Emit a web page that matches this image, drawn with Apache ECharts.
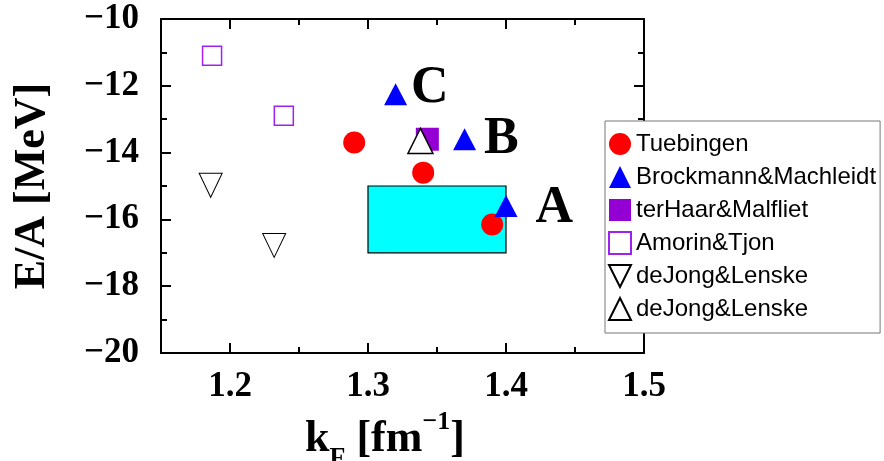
<!DOCTYPE html>
<html>
<head>
<meta charset="utf-8">
<script src="https://cdn.jsdelivr.net/npm/echarts@6/dist/echarts.min.js"></script>
<style>
  html, body { margin: 0; padding: 0; background: #fff; }
  #chart { width: 884px; height: 461px; }
</style>
</head>
<body>
<div id="chart"></div>
<script>
// Binding energy per nucleon of nuclear matter at saturation, E/A [MeV] vs k_F [fm^-1]
const tuebingenKf = [1.29, 1.34, 1.39];
const tuebingenE = [-13.7, -14.6, -16.15];
const brockmannKf = [1.32, 1.37, 1.40];
const brockmannE = [-12.25, -13.6, -15.6];
const brockmannTags = ['C', 'B', 'A'];
const terHaarKf = [1.343];
const terHaarE = [-13.6];
const amorinKf = [1.187, 1.239];
const amorinE = [-11.1, -12.9];
const deJongDownKf = [1.186, 1.232];
const deJongDownE = [-14.98, -16.78];
const deJongUpKf = [1.338];
const deJongUpE = [-13.65];
// empirical saturation region
const boxKf = [1.3, 1.4];
const boxE = [-15, -17];
// axis ticks
const xMajorTicks = [1.2, 1.3, 1.4, 1.5];
const yMin = -20, yMax = -10;

const pairs = (xs, ys) => xs.map((x, i) => [x, ys[i]]);

const serif = '"Liberation Serif", "Times New Roman", serif';
const sans = '"Liberation Sans", Arial, sans-serif';
const lineStyle = { color: '#000', width: 2 };
const minus = v => String(v).replace('-', '\u2212');

// label offsets for the A/B/C tags next to the triangles
const tagOffsets = [[-1, -6], [3, 0], [13, 3]];

const downTri = 'path://M-1,-1L1,-1L0,1Z';

const xBase = {
  type: 'value', min: 1.15, max: 1.5, interval: 0.05,
  splitLine: { show: false },
  axisLine: { show: true, onZero: false, lineStyle },
};

const option = {
  animation: false,
  backgroundColor: '#fff',
  grid: { left: 161, top: 19, width: 483, height: 334, containLabel: false, outerBoundsMode: 'none' },
  xAxis: [
    Object.assign({}, xBase, {
      position: 'bottom',
      name: '{b|k}{sub|F}{b| [fm}{sup|\u22121}{b|]}',
      nameLocation: 'middle',
      nameGap: 50,
      nameTextStyle: {
        padding: [0, 35, 0, 0],
        rich: {
          b: { fontFamily: serif, fontWeight: 'bold', fontSize: 44, lineHeight: 62, color: '#000' },
          sub: { fontFamily: serif, fontWeight: 'bold', fontSize: 26, lineHeight: 26, verticalAlign: 'bottom', color: '#000' },
          sup: { fontFamily: serif, fontWeight: 'bold', fontSize: 26, lineHeight: 26, verticalAlign: 'top', color: '#000' }
        }
      },
      axisTick: { show: true, inside: true, length: 10, lineStyle, customValues: xMajorTicks },
      axisLabel: {
        show: true, margin: 16, customValues: xMajorTicks,
        fontFamily: serif, fontWeight: 'bold', fontSize: 35, color: '#000',
        formatter: v => v.toFixed(1)
      }
    }),
    Object.assign({}, xBase, {
      position: 'bottom',
      axisLine: { show: false },
      axisTick: { show: true, inside: true, length: 6, lineStyle },
      axisLabel: { show: false }
    }),
    Object.assign({}, xBase, {
      position: 'top',
      axisTick: { show: true, inside: true, length: 10, lineStyle, customValues: xMajorTicks },
      axisLabel: { show: false }
    }),
    Object.assign({}, xBase, {
      position: 'top',
      axisLine: { show: false },
      axisTick: { show: true, inside: true, length: 6, lineStyle },
      axisLabel: { show: false }
    })
  ],
  yAxis: [
    {
      type: 'value', min: yMin, max: yMax, interval: 2, position: 'left',
      name: 'E/A [MeV]', nameLocation: 'middle', nameGap: 106, nameRotate: 90,
      nameTextStyle: { fontFamily: serif, fontWeight: 'bold', fontSize: 44, color: '#000' },
      splitLine: { show: false },
      axisLine: { show: true, onZero: false, lineStyle },
      axisTick: { show: true, inside: true, length: 10, lineStyle },
      minorTick: { show: true, splitNumber: 2, length: 6, lineStyle },
      axisLabel: {
        margin: 22, fontFamily: serif, fontWeight: 'bold', fontSize: 35, color: '#000',
        formatter: v => minus(v)
      }
    },
    {
      type: 'value', min: yMin, max: yMax, interval: 2, position: 'right',
      splitLine: { show: false },
      axisLine: { show: true, onZero: false, lineStyle },
      axisTick: { show: true, inside: true, length: 10, lineStyle },
      minorTick: { show: true, splitNumber: 2, length: 6, lineStyle },
      axisLabel: { show: false }
    }
  ],
  legend: {
    orient: 'vertical',
    left: 605, top: 121,
    padding: [11, 4, 12, 3],
    itemWidth: 22, itemHeight: 22, itemGap: 9,
    backgroundColor: '#fff',
    borderColor: '#777', borderWidth: 1,
    z: 20,
    textStyle: { fontFamily: sans, fontSize: 24, lineHeight: 22, color: '#000' },
    formatter: name => name.trim(),
    data: ['Tuebingen', 'Brockmann&Machleidt', 'terHaar&Malfliet', 'Amorin&Tjon', 'deJong&Lenske', 'deJong&Lenske ']
  },
  series: [
    {
      name: 'region', type: 'scatter', data: [], z: 1, silent: true,
      markArea: {
        silent: true,
        itemStyle: { color: '#00ffff', borderColor: '#000', borderWidth: 1.2 },
        data: [[{ coord: [boxKf[0], boxE[0]] }, { coord: [boxKf[1], boxE[1]] }]]
      }
    },
    {
      name: 'Tuebingen', type: 'scatter', z: 3,
      symbol: 'circle', symbolSize: 22,
      itemStyle: { color: '#ff0000', opacity: 1 },
      data: pairs(tuebingenKf, tuebingenE)
    },
    {
      name: 'Brockmann&Machleidt', type: 'scatter', z: 3,
      symbol: 'triangle', symbolSize: [23, 22],
      itemStyle: { color: '#0000ff', opacity: 1 },
      label: {
        show: true, position: 'right', distance: 5,
        fontFamily: serif, fontWeight: 'bold', fontSize: 52, color: '#000'
      },
      data: pairs(brockmannKf, brockmannE).map((p, i) => ({
        value: p,
        label: { formatter: brockmannTags[i], offset: tagOffsets[i] }
      }))
    },
    {
      name: 'terHaar&Malfliet', type: 'scatter', z: 3,
      symbol: 'rect', symbolSize: 23,
      itemStyle: { color: '#9400d3', opacity: 1 },
      data: pairs(terHaarKf, terHaarE)
    },
    {
      name: 'Amorin&Tjon', type: 'scatter', z: 3,
      symbol: 'rect', symbolSize: 19,
      itemStyle: { color: '#fff', borderColor: '#a020f0', borderWidth: 1.5, opacity: 1 },
      data: pairs(amorinKf, amorinE)
    },
    {
      name: 'deJong&Lenske', type: 'scatter', z: 3,
      symbol: downTri, symbolSize: [23, 24],
      itemStyle: { color: '#fff', borderColor: '#000', borderWidth: 1, opacity: 1 },
      data: pairs(deJongDownKf, deJongDownE)
    },
    {
      name: 'deJong&Lenske ', type: 'scatter', z: 4,
      symbol: 'triangle', symbolSize: [25, 25],
      itemStyle: { color: '#fff', borderColor: '#000', borderWidth: 1.5, opacity: 1 },
      data: pairs(deJongUpKf, deJongUpE)
    }
  ]
};

const chart = echarts.init(document.getElementById('chart'), null, { renderer: 'canvas' });
chart.setOption(option);
</script>
</body>
</html>
